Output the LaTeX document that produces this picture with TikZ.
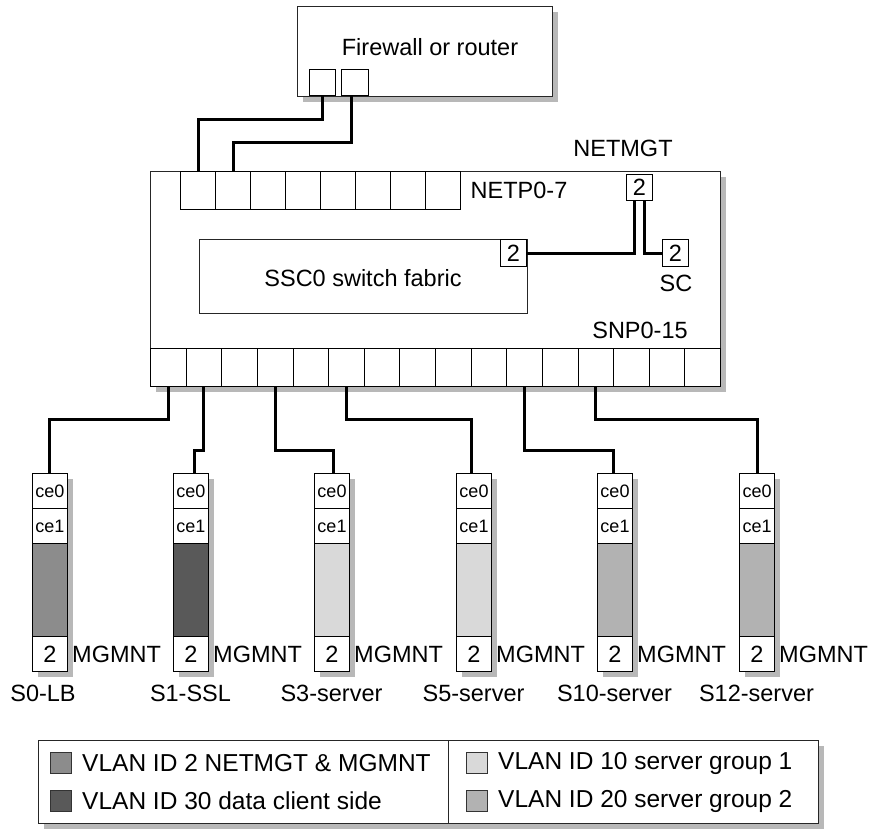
\documentclass[tikz,border=0pt]{standalone}
\usepackage{fontspec}
\setmainfont{Liberation Sans}
\usetikzlibrary{calc}
\definecolor{vlantwo}{gray}{0.55}
\definecolor{vlanthirty}{gray}{0.35}
\definecolor{vlanten}{gray}{0.85}
\definecolor{vlantwenty}{gray}{0.70}
\definecolor{shadowgray}{gray}{0.72}
\begin{document}
\begin{tikzpicture}[x=1pt,y=-1pt,
  box/.style={draw=black!85, line width=1.2pt, fill=white, inner sep=0pt},
  port/.style={draw=black, line width=1pt, fill=white, inner sep=0pt, font=\fontsize{23.5}{26}\selectfont},
  cebox/.style={port, font=\fontsize{18}{20}\selectfont},
  wire/.style={line width=3pt},
  txt/.style={font=\fontsize{23.5}{26}\selectfont, inner sep=0pt},
  legtxt/.style={font=\fontsize{24.5}{27}\selectfont, inner sep=0pt},
  swatch/.style={draw=black!80, line width=1pt, minimum size=21pt, inner sep=0pt, anchor=north west},
  shadowfill/.style={fill=shadowgray}
]
\useasboundingbox (0,0) rectangle (872,828);

% Shadows (drawn first, behind the boxes)
\fill[shadowfill] (303,12) rectangle (558,102);
\fill[shadowfill] (156,177) rectangle (726,392);
\foreach \x in {32,173,314,456,597,739}
  \fill[shadowfill] (\x+6,479) rectangle (\x+41,677);
\fill[shadowfill] (44,746) rectangle (824,829);

% Firewall
\node[box, minimum width=255pt, minimum height=90pt, anchor=north west] (fw) at (297,6) {};
\node[txt] (fwlabel) at (430,47) {Firewall or router};
\node[port, minimum width=26pt, minimum height=26pt, anchor=south west] (fwp1) at (309,96) {};
\node[port, minimum width=27pt, minimum height=26pt, anchor=south west] (fwp2) at (341,96) {};

% Switch
\node[box, minimum width=570pt, minimum height=215pt, anchor=north west] (sw) at (150,171) {};
\foreach \i in {0,...,7}
  \node[port, minimum width=35pt, minimum height=38pt, anchor=north west] (netp\i) at (180+35*\i,171) {};
\foreach \i in {0,...,15}
  \node[port, minimum width=35.625pt, minimum height=38pt, anchor=north west] (snp\i) at (150+35.625*\i,348) {};
\node[txt] (netplabel) at (519,190) {NETP0-7};
\node[txt] (netmgtlabel) at (623,148) {NETMGT};
\node[port, minimum width=26pt, minimum height=26pt, anchor=north west] (netmgt) at (626,174) {2};
\node[box, minimum width=328pt, minimum height=74pt, anchor=north west] (ssc) at (199,239) {};
\node[txt] (ssclabel) at (363,278) {SSC0 switch fabric};
\node[port, minimum width=26pt, minimum height=27pt, anchor=north east] (sscp) at (527,239) {2};
\node[port, minimum width=26pt, minimum height=27pt, anchor=north west] (sc) at (662,239) {2};
\node[txt] (sclabel) at (676,283) {SC};
\node[txt] (snplabel) at (640,330) {SNP0-15};

\coordinate (nm1) at ([xshift=-5pt]netmgt.south);
\coordinate (nm2) at ([xshift=5pt]netmgt.south);
\draw[wire] (sscp.east) -| (nm1);
\draw[wire] (nm2) |- (sc.west);

\coordinate (h1) at (0,119);
\coordinate (h2) at (0,142);
\draw[wire] (fwp1.south) -- (fwp1.south |- h1) -| (netp0.north);
\draw[wire] ([xshift=-4pt]fwp2.south) coordinate (fw2s) -- (fw2s |- h2) -| (netp1.north);

% Servers
\foreach \n/\x/\p/\c/\lvl/\dx/\lx/\lab in {
  0/32/0/vlantwo/419/-0.5/43/S0-LB,
  1/173/1/vlanthirty/450/3.5/190.5/S1-SSL,
  3/314/3/vlanten/450/1.5/331.5/S3-server,
  5/456/5/vlanten/419/-2.5/473.5/S5-server,
  10/597/10/vlantwenty/450/-1.5/614.5/S10-server,
  12/739/12/vlantwenty/419/0.5/756.5/S12-server}{
  \node[box, line width=1pt, minimum width=35pt, minimum height=198pt, anchor=north west] (so\n) at (\x,473) {};
  \node[cebox, minimum width=35pt, minimum height=35pt, anchor=north west] (sa\n) at (\x,473) {ce0};
  \node[cebox, minimum width=35pt, minimum height=35pt, anchor=north west] (sb\n) at (\x,508) {ce1};
  \node[port, fill=\c, minimum width=35pt, minimum height=93pt, anchor=north west] (sv\n) at (\x,543) {};
  \node[port, minimum width=35pt, minimum height=35pt, anchor=north west] (mg\n) at (\x,636) {2};
  \node[txt, anchor=west] (mgl\n) at ([xshift=4pt]mg\n.east) {MGMNT};
  \node[txt] (lab\n) at (\lx,693) {\lab};
  \coordinate (lv\n) at (0,\lvl);
  \draw[wire] (snp\p.south) -- (snp\p.south |- lv\n) -| ([xshift=\dx pt]sa\n.north);
}

% Legend
\node[box, line width=1pt, minimum width=780pt, minimum height=83pt, anchor=north west] (leg) at (38,740) {};
\coordinate (ldiv) at (448,0);
\draw[line width=1pt, black!85] (leg.north -| ldiv) -- (leg.south -| ldiv);
\node[swatch, fill=vlantwo] (k1) at (50,752) {};
\node[swatch, fill=vlanthirty] (k2) at (50,790) {};
\node[swatch, fill=vlanten] (k3) at (466,752) {};
\node[swatch, fill=vlantwenty] (k4) at (466,790) {};
\node[legtxt, anchor=west] (t1) at ([xshift=10pt]k1.east) {VLAN ID 2 NETMGT \& MGMNT};
\node[legtxt, anchor=west] (t2) at ([xshift=10pt]k2.east) {VLAN ID 30 data client side};
\node[legtxt, anchor=west] (t3) at ([xshift=10pt]k3.east) {VLAN ID 10 server group 1};
\node[legtxt, anchor=west] (t4) at ([xshift=10pt]k4.east) {VLAN ID 20 server group 2};
\end{tikzpicture}
\end{document}
